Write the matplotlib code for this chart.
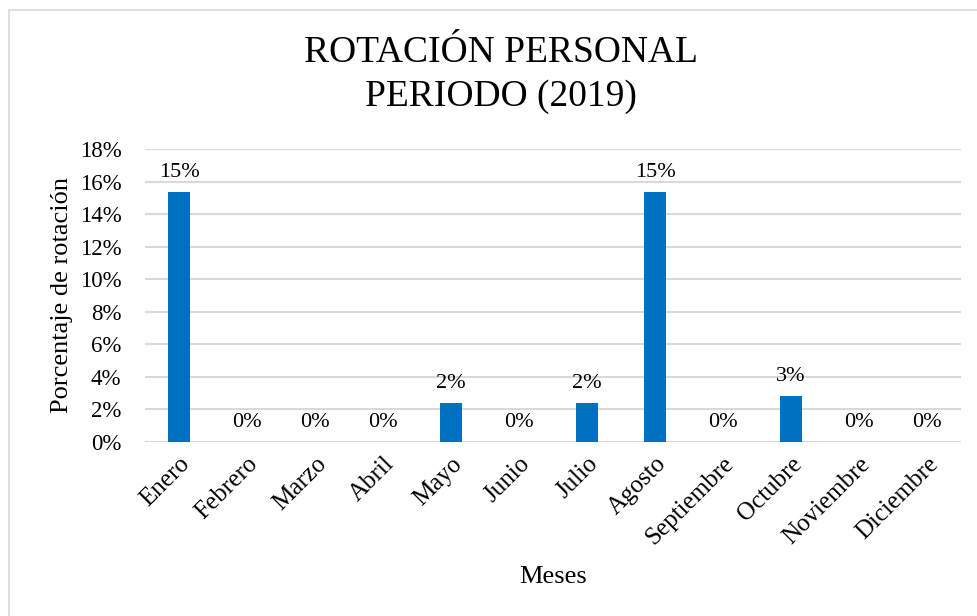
import numpy as np
import matplotlib.pyplot as plt
from matplotlib.patches import Rectangle
from matplotlib.ticker import PercentFormatter

meses = ['Enero', 'Febrero', 'Marzo', 'Abril', 'Mayo', 'Junio', 'Julio',
         'Agosto', 'Septiembre', 'Octubre', 'Noviembre', 'Diciembre']
rotacion = [0.1538, 0.0, 0.0, 0.0, 0.024, 0.0, 0.024, 0.1538, 0.0, 0.028, 0.0, 0.0]

plt.rcParams['font.family'] = ['Liberation Serif', 'DejaVu Serif']

fig = plt.figure(figsize=(9.78, 6.16), dpi=100)
W, H = 978, 616

# light frame around the chart (right and bottom edges fall outside the image)
fig.patches.append(Rectangle((9 / W, -0.5), 1.5, 1.5 - 10 / H, transform=fig.transFigure,
                             fill=False, edgecolor='#D9D9D9', linewidth=1.2))

ax = fig.add_axes([145 / W, (H - 441.7) / H, 816 / W, 292.4 / H])
x = np.arange(len(meses))
ax.bar(x, rotacion, width=0.31, color='#0070C0', zorder=3)

for xi, v in zip(x, rotacion):
    ax.annotate(f'{v:.0%}', (xi, v), xytext=(0, 7), textcoords='offset points',
                ha='center', va='bottom', fontsize=16)

ax.set_xlim(-0.5, len(meses) - 0.5)
ax.set_ylim(0, 0.18)
ax.set_yticks(np.arange(0, 0.181, 0.02))
ax.yaxis.set_major_formatter(PercentFormatter(1.0, decimals=0))
ax.grid(axis='y', color='#D9D9D9', linewidth=1.5, zorder=0)
for s in ax.spines.values():
    s.set_visible(False)
ax.tick_params(length=0, labelsize=16.5)
ax.tick_params(axis='y', pad=17)
ax.tick_params(axis='x', pad=8)
ax.set_xticks(x)
ax.set_xticklabels(meses, rotation=45, ha='right', rotation_mode='anchor', fontsize=18)

fig.text(62 / W, 1 - 295 / H, 'Porcentaje de rotación', rotation=90,
         ha='center', va='center', fontsize=19)
fig.text(553 / W, 1 - 577 / H, 'Meses', ha='center', va='center', fontsize=19)
fig.text(501 / W, 1 - 53 / H, 'ROTACIÓN PERSONAL', ha='center', va='center', fontsize=27)
fig.text(501 / W, 1 - 97 / H, 'PERIODO (2019)', ha='center', va='center', fontsize=27)

fig.savefig('out.png', dpi=100)
